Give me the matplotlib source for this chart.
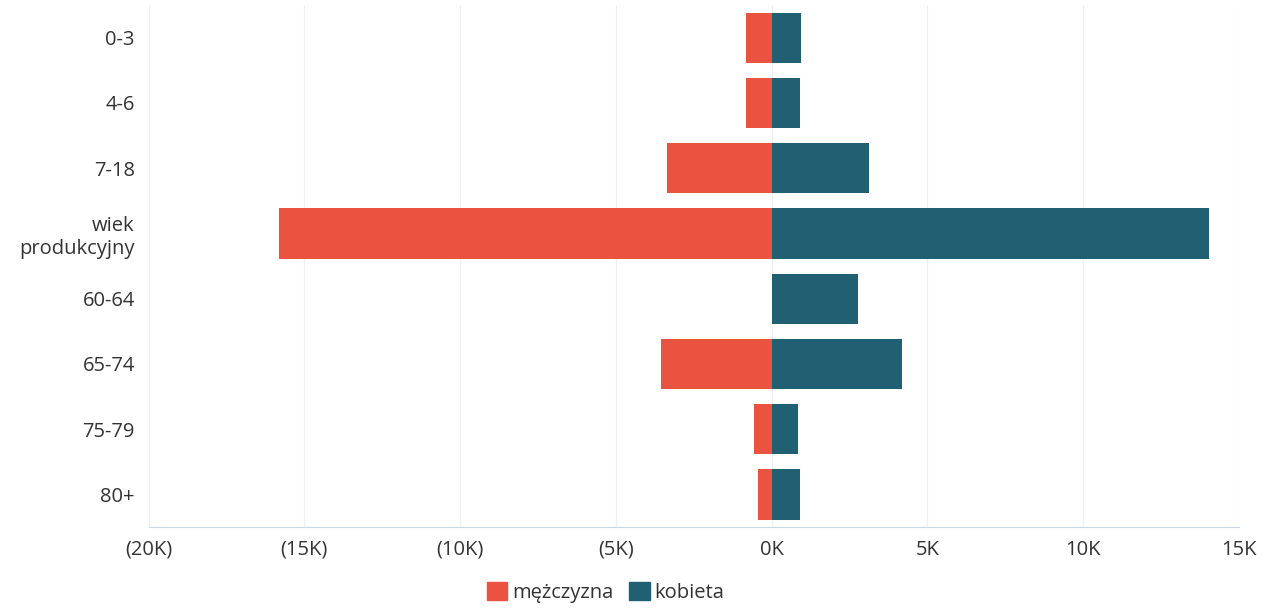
import matplotlib.pyplot as plt
import numpy as np
from matplotlib.ticker import FuncFormatter
from matplotlib.patches import Patch

plt.rcParams['font.family'] = ['Open Sans', 'DejaVu Sans']

# age groups and counts (thousands)
groups = ['0-3', '4-6', '7-18', 'wiek\nprodukcyjny', '60-64', '65-74', '75-79', '80+']
men = [0.82, 0.82, 3.35, 15.81, 0.0, 3.55, 0.56, 0.45]
women = [0.96, 0.90, 3.14, 14.05, 2.76, 4.19, 0.84, 0.90]

red = '#e9533f'
teal = '#215f72'

fig = plt.figure(figsize=(12.75, 6.09), dpi=100)
ax = fig.add_axes([0.1166, 0.1346, 0.855, 0.857])

y = np.arange(len(groups))
ax.barh(y, -np.array(men), height=0.77, color=red, zorder=3)
ax.barh(y, women, height=0.77, color=teal, zorder=3)

ax.set_xlim(-20, 15)
ax.set_ylim(len(groups) - 0.5, -0.5)
ax.set_xticks(np.arange(-20, 16, 5))

def fmt(v, pos):
    if v < 0:
        return '(%dK)' % abs(v)
    return '%dK' % v

ax.xaxis.set_major_formatter(FuncFormatter(fmt))
ax.set_yticks(y)
ax.set_yticklabels(groups, ha='right', multialignment='right')
ax.tick_params(axis='both', length=0, labelsize=14.5, colors='#333333')
ax.tick_params(axis='y', pad=10)
ax.tick_params(axis='x', pad=9)
ax.grid(axis='x', color='#edf1f6', linewidth=1, zorder=0)
for s in ['top', 'right', 'left']:
    ax.spines[s].set_visible(False)
ax.spines['bottom'].set_color('#c9d7e6')

handles = [Patch(color=red, label='mężczyzna'), Patch(color=teal, label='kobieta')]
fig.legend(handles=handles, loc='center', bbox_to_anchor=(0.475, 0.027), ncol=2,
           frameon=False, fontsize=14.5, handlelength=1.0, handleheight=1.0,
           handletextpad=0.25, columnspacing=0.8, labelcolor='#333333')

fig.savefig('out.png', dpi=100)
